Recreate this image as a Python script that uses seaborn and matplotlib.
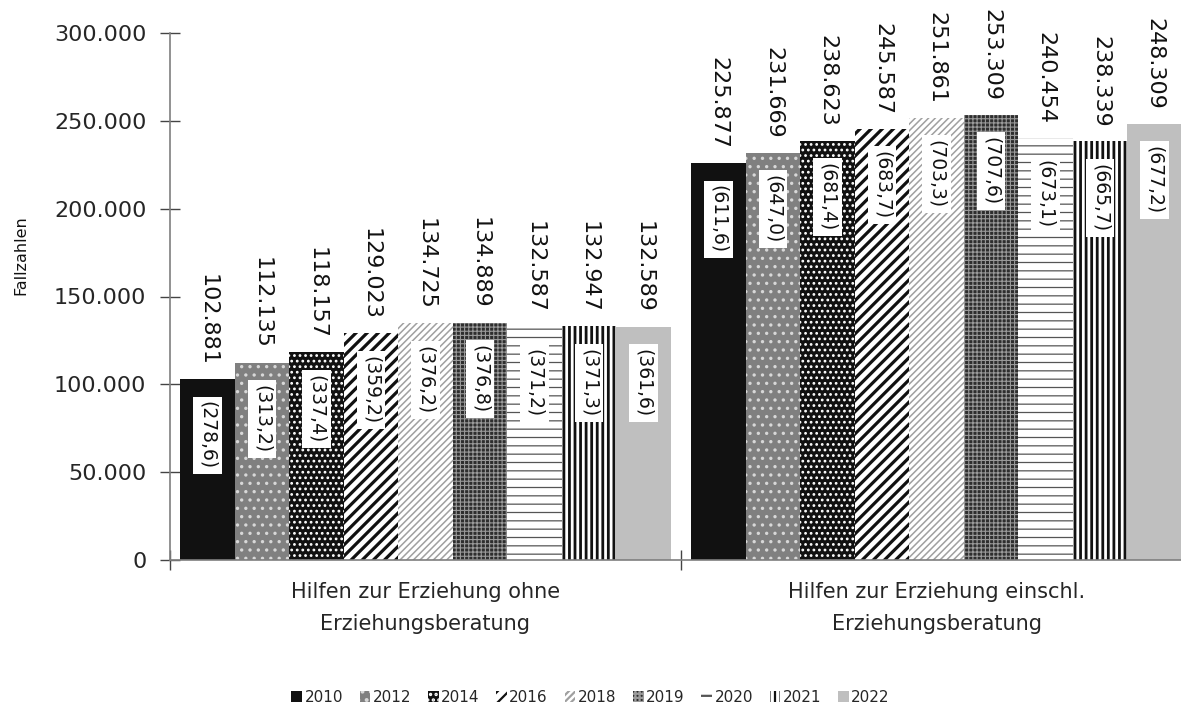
import pandas as pd
import matplotlib.pyplot as plt
import seaborn as sns

# Fallzahlen der Hilfen zur Erziehung, je Jahr
bereiche = ["Hilfen zur Erziehung ohne\nErziehungsberatung",
            "Hilfen zur Erziehung einschl.\nErziehungsberatung"]
jahre = ["2010", "2012", "2014", "2016", "2018", "2019", "2020", "2021", "2022"]
ohne_eb = [102881, 112135, 118157, 129023, 134725, 134889, 132587, 132947, 132589]
mit_eb = [225877, 231669, 238623, 245587, 251861, 253309, 240454, 238339, 248309]
# Werte je 10.000 der unter 21-Jährigen (in Klammern)
quote_ohne = ["278,6", "313,2", "337,4", "359,2", "376,2", "376,8", "371,2", "371,3", "361,6"]
quote_mit = ["611,6", "647,0", "681,4", "683,7", "703,3", "707,6", "673,1", "665,7", "677,2"]

farben = ["#111111", "#808080", "#111111", "#ffffff", "#ffffff",
          "#2e2e2e", "#ffffff", "#ffffff", "#bfbfbf"]
hatches = [None, "..", "...", "///", "/////", "++++", "--", "|||", None]
hatch_farben = ["#111111", "#d8d8d8", "#ffffff", "#111111", "#a0a0a0",
                "#9a9a9a", "#555555", "#111111", "#bfbfbf"]
hatch_breite = [1, 1.2, 1.2, 2.3, 1.1, 0.8, 0.9, 2.0, 1]

df = pd.DataFrame({
    "Bereich": [bereiche[0]] * len(jahre) + [bereiche[1]] * len(jahre),
    "Jahr": jahre + jahre,
    "Fallzahl": ohne_eb + mit_eb,
})

sns.set_style("white")
plt.rcParams["font.family"] = ["DejaVu Sans"]
plt.rcParams["hatch.linewidth"] = 1.6

fig = plt.figure(figsize=(11.81, 7.07), dpi=100)
ax = fig.add_axes([170 / 1181, 147 / 707, 1011 / 1181, 527 / 707])

sns.barplot(data=df, x="Bereich", y="Fallzahl", hue="Jahr", hue_order=jahre,
            palette=farben, saturation=1, width=0.96, legend=False, ax=ax)


def tausender(v):
    return f"{int(v):,}".replace(",", ".")


quoten = [quote_ohne, quote_mit]
for i, cont in enumerate(ax.containers):
    for j, bar in enumerate(cont):
        bar.set_hatch(hatches[i])
        bar.set_edgecolor(hatch_farben[i])
        bar.set_linewidth(0)
        if hasattr(bar, "set_hatch_linewidth"):
            bar.set_hatch_linewidth(hatch_breite[i])
        x = bar.get_x() + bar.get_width() / 2
        h = bar.get_height()
        ax.annotate(tausender(h), (x, h), xytext=(0, 10), textcoords="offset points",
                    rotation=270, ha="center", va="bottom", fontsize=16, color="#111111")
        ax.annotate(f"({quoten[j][i]})", (x, h), xytext=(0, -16), textcoords="offset points",
                    rotation=270, ha="center", va="top", fontsize=13.5, color="#111111",
                    bbox=dict(facecolor="white", edgecolor="none", pad=3.5))

ax.set_ylim(0, 300000)
ax.set_xlim(-0.5, -0.5 + 1011 / 511)
ax.set_yticks(range(0, 300001, 50000))
ax.set_yticklabels([tausender(v) for v in range(0, 300001, 50000)], fontsize=16)
ax.tick_params(axis="y", left=True, direction="inout", length=14, width=1,
               color="#444444", pad=10)
ax.set_xticks([0, 1])
ax.set_xticklabels(bereiche, fontsize=15, linespacing=1.75)
ax.tick_params(axis="x", which="major", length=0, pad=16)
ax.set_xticks([-0.5, 0.5], minor=True)
ax.tick_params(axis="x", which="minor", bottom=True, direction="inout", length=14,
               width=1, color="#444444")
ax.set_xlabel("")
ax.set_ylabel("")
fig.text(21 / 1181, 1 - 255 / 707, "Fallzahlen", rotation=90, ha="center",
         va="center", fontsize=11.5, color="#111111")

sns.despine(ax=ax)
for s in ["left", "bottom"]:
    ax.spines[s].set_color("#7f7f7f")
    ax.spines[s].set_linewidth(1.2)

fig.legend(ax.containers, jahre, loc="center", bbox_to_anchor=(0.5, 10 / 707),
           ncol=9, frameon=False, fontsize=11, handlelength=0.7, handleheight=0.7,
           handletextpad=0.15, columnspacing=1.1)

fig.savefig("out.png", dpi=100)
